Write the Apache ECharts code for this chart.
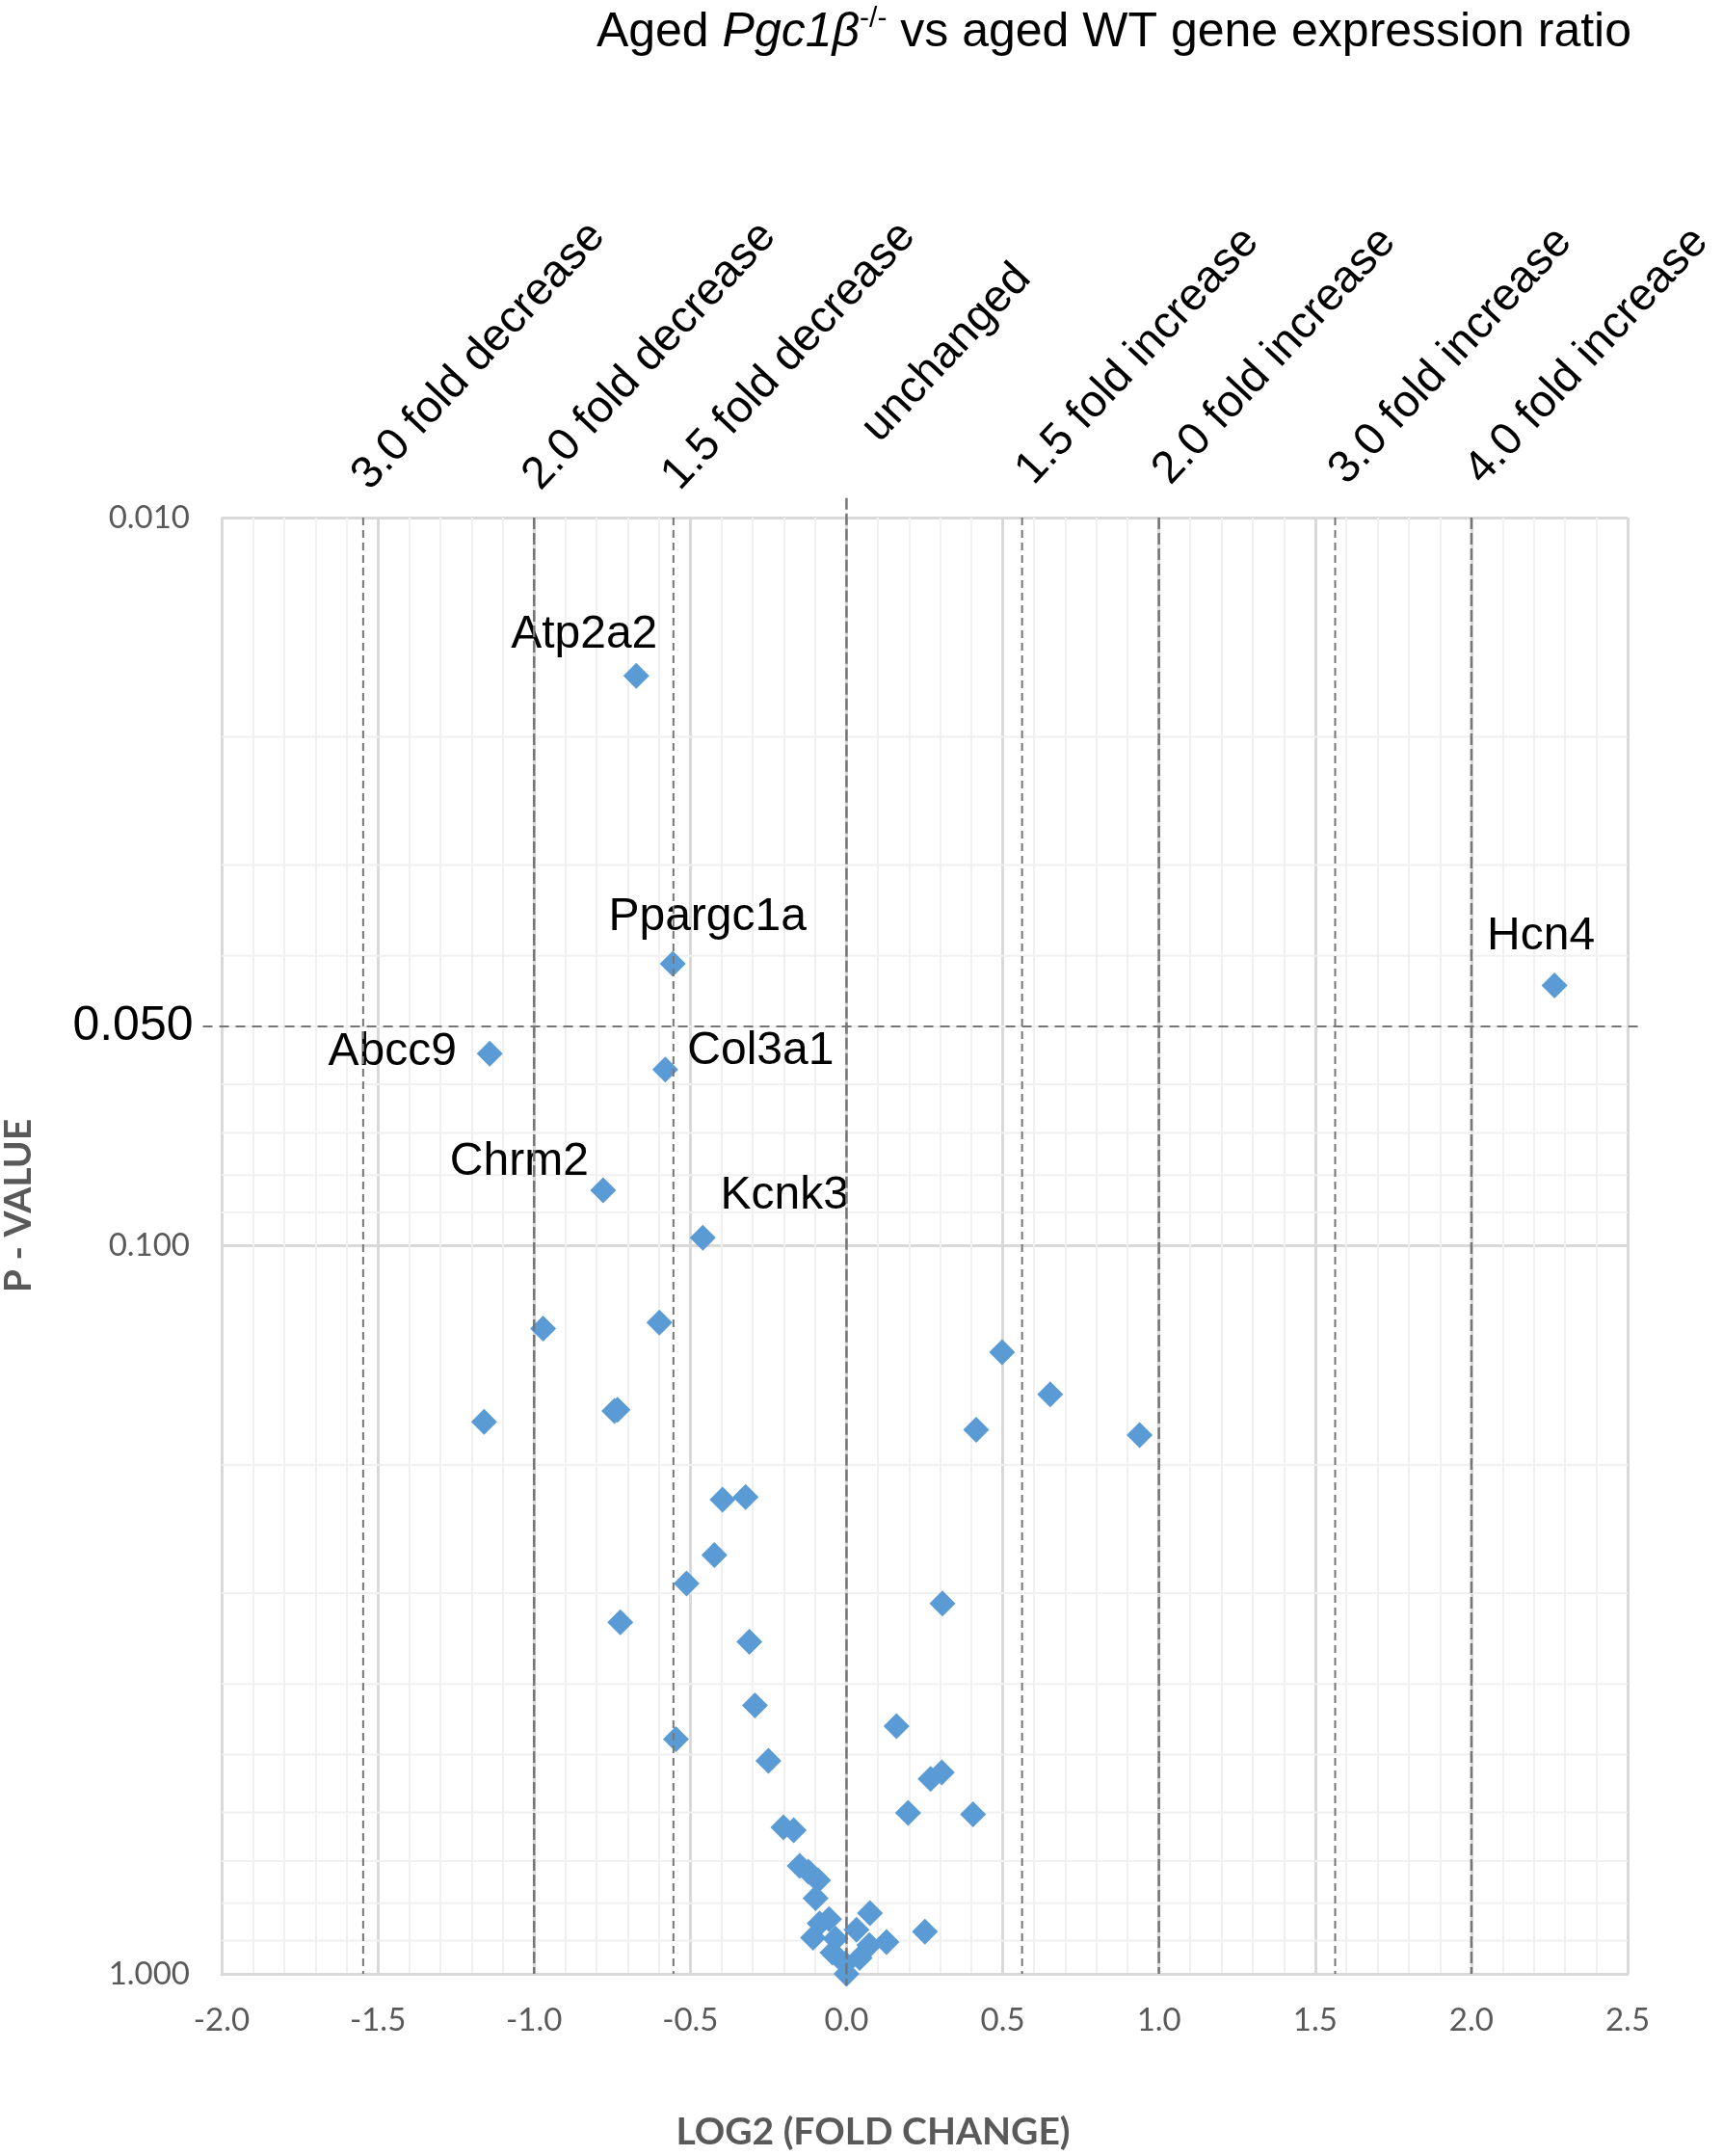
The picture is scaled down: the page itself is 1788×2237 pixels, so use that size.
<!DOCTYPE html>
<html>
<head>
<meta charset="utf-8">
<title>Aged Pgc1β-/- vs aged WT gene expression ratio</title>
<script src="https://cdn.jsdelivr.net/npm/echarts@6/dist/echarts.min.js"></script>
<style>
  html, body { margin: 0; padding: 0; background: #fff; }
  #chart { width: 1788px; height: 2237px; }
</style>
</head>
<body>
<div id="chart"></div>
<script>
// labelled genes
const geneNames = ['Atp2a2', 'Ppargc1a', 'Hcn4', 'Abcc9', 'Col3a1', 'Chrm2', 'Kcnk3'];
const geneLog2 = [-0.673, -0.556, 2.266, -1.142, -0.580, -0.779, -0.460];
const geneP = [0.0165, 0.0410, 0.0439, 0.0545, 0.0573, 0.0839, 0.0975];

// the rest of the genes (no label)
const otherLog2 = [-0.971, -0.599, 0.498, 0.652, -0.743, -0.733, -1.160, 0.415, 0.938,
  -0.397, -0.323, -0.423, -0.512, 0.307, -0.724, -0.311, -0.293, 0.160, -0.546, -0.250,
  0.269, 0.305, 0.197, 0.405, -0.202, -0.169, -0.150, -0.122, -0.091, -0.099, 0.075,
  0.251, -0.056, -0.086, -0.107, -0.035, -0.045, -0.004, 0.000, 0.032, 0.128, 0.073, 0.042];
const otherP = [0.130, 0.1275, 0.140, 0.160, 0.1686, 0.168, 0.1746, 0.179, 0.182,
  0.2233, 0.2214, 0.266, 0.291, 0.310, 0.329, 0.350, 0.428, 0.457, 0.476, 0.510,
  0.540, 0.529, 0.601, 0.604, 0.629, 0.635, 0.711, 0.724, 0.744, 0.787, 0.825,
  0.875, 0.841, 0.853, 0.892, 0.895, 0.935, 0.968, 1.000, 0.870, 0.904, 0.913, 0.951];

// fold change guide lines
const foldLog2 = [-1.547, -1.0, -0.554, 0, 0.562, 1.0, 1.564, 2.0];
const foldLabels = ['3.0 fold decrease', '2.0 fold decrease', '1.5 fold decrease', 'unchanged',
  '1.5 fold increase', '2.0 fold increase', '3.0 fold increase', '4.0 fold increase'];

const pThreshold = 0.05;
const minorP = [0.02, 0.03, 0.04, 0.05, 0.06, 0.07, 0.08, 0.09,
  0.2, 0.3, 0.4, 0.5, 0.6, 0.7, 0.8, 0.9];

const X_MIN = -2, X_MAX = 2.5, X_STEP = 0.5;
const P_MIN = 0.01, P_MAX = 1;

const BLUE = '#5B9BD5';
const GRID_MAJOR = '#D9D9D9';
const GRID_MINOR = '#F0F0F0';
const GUIDE = '#767676';
const AXIS_TEXT = '#595959';
const FONT_TEXT = '"Liberation Sans", Arial, sans-serif';
const FONT_AXIS = 'Lato, "Open Sans", sans-serif';

// where each gene name sits relative to its point
const labelShift = {
  Atp2a2: [-54, -43], Ppargc1a: [36, -48], Hcn4: [-14, -51], Abcc9: [-101, -2],
  Col3a1: [99, -19], Chrm2: [-87, -29], Kcnk3: [85, -43]
};

const pointData = geneNames.map((name, i) => ({
  name,
  value: [geneLog2[i], geneP[i]],
  label: { show: true, offset: labelShift[name] }
})).concat(otherLog2.map((v, i) => [v, otherP[i]]));

function renderMinorGrid(params, api) {
  const p = api.value(1);
  const a = api.coord([X_MIN, p]);
  const b = api.coord([X_MAX, p]);
  return {
    type: 'line',
    shape: { x1: a[0], y1: a[1], x2: b[0], y2: b[1] },
    style: { stroke: GRID_MINOR, lineWidth: 2 }
  };
}

function renderFold(params, api) {
  const v = api.value(0);
  const unchanged = v === 0;
  const whole = Number.isInteger(v);
  const top = api.coord([v, unchanged ? 0.0094 : P_MIN]);
  const bottom = api.coord([v, unchanged ? 1.037 : P_MAX]);
  const lab = api.coord([v, 0.006]);
  return {
    type: 'group',
    children: [{
      type: 'line',
      shape: { x1: top[0], y1: top[1], x2: bottom[0], y2: bottom[1] },
      style: { stroke: GUIDE, lineWidth: whole ? 2.5 : 2, lineDash: whole ? [12, 4] : [8, 5] }
    }, {
      type: 'text',
      x: lab[0] + (unchanged ? 104 : 120),
      y: lab[1] - (unchanged ? 3 : 0),
      rotation: 47 * Math.PI / 180,
      style: {
        text: foldLabels[params.dataIndex],
        fill: '#000',
        font: '47px ' + FONT_TEXT,
        align: 'center', verticalAlign: 'middle',
        textAlign: 'center', textVerticalAlign: 'middle'
      }
    }]
  };
}

function renderThreshold(params, api) {
  const p = api.value(1);
  const a = api.coord([-2.06, p]);
  const b = api.coord([2.55, p]);
  return {
    type: 'group',
    children: [{
      type: 'line',
      shape: { x1: a[0], y1: a[1], x2: b[0], y2: b[1] },
      style: { stroke: GUIDE, lineWidth: 2, lineDash: [10, 7] }
    }, {
      type: 'text',
      x: a[0] - 10,
      y: a[1],
      style: {
        text: p.toFixed(3),
        fill: '#000',
        font: '50px ' + FONT_TEXT,
        align: 'right', verticalAlign: 'middle',
        textAlign: 'right', textVerticalAlign: 'middle'
      }
    }]
  };
}

const chart = echarts.init(document.getElementById('chart'), null, { renderer: 'canvas' });

chart.setOption({
  animation: false,
  backgroundColor: '#fff',
  title: {
    text: '{a|Aged }{i|Pgc1β}{s|-/-}{a| vs aged WT gene expression ratio}',
    right: 90,
    top: 0,
    textStyle: {
      fontWeight: 'normal',
      rich: {
        a: { fontSize: 50, fontFamily: FONT_TEXT, fontWeight: 'normal', color: '#000', lineHeight: 58 },
        i: { fontSize: 50, fontFamily: FONT_TEXT, fontWeight: 'normal', color: '#000', fontStyle: 'italic', lineHeight: 58 },
        s: { fontSize: 30, fontFamily: FONT_TEXT, fontWeight: 'normal', color: '#000', verticalAlign: 'top', lineHeight: 40 }
      }
    }
  },
  grid: { left: 230, right: 99, top: 537, bottom: 189, containLabel: false, outerBoundsMode: 'none' },
  xAxis: {
    type: 'value',
    min: X_MIN,
    max: X_MAX,
    interval: X_STEP,
    axisLine: { show: true, onZero: false, lineStyle: { color: GRID_MAJOR, width: 3 } },
    axisTick: { show: false },
    minorTick: { show: false, splitNumber: 5 },
    axisLabel: {
      margin: 32,
      color: AXIS_TEXT,
      fontFamily: FONT_AXIS,
      fontSize: 33,
      showMinLabel: true,
      showMaxLabel: true,
      formatter: v => v.toFixed(1)
    },
    splitLine: { show: true, showMinLine: true, showMaxLine: true, lineStyle: { color: GRID_MAJOR, width: 3 } },
    minorSplitLine: { show: true, lineStyle: { color: GRID_MINOR, width: 2 } }
  },
  yAxis: {
    type: 'log',
    logBase: 10,
    min: P_MIN,
    max: P_MAX,
    inverse: true,
    axisLine: { show: true, lineStyle: { color: GRID_MAJOR, width: 3 } },
    axisTick: { show: false },
    axisLabel: {
      margin: 33,
      color: AXIS_TEXT,
      fontFamily: FONT_AXIS,
      fontSize: 33,
      showMinLabel: true,
      showMaxLabel: true,
      formatter: v => v.toFixed(3)
    },
    splitLine: { show: true, showMinLine: true, showMaxLine: true, lineStyle: { color: GRID_MAJOR, width: 3 } }
  },
  graphic: [{
    type: 'text',
    x: 906,
    y: 2212,
    style: {
      text: 'LOG2 (FOLD CHANGE)',
      fill: AXIS_TEXT,
      font: 'bold 39px ' + FONT_AXIS,
      align: 'center', verticalAlign: 'middle'
    }
  }, {
    type: 'text',
    x: 19,
    y: 1251,
    rotation: Math.PI / 2,
    style: {
      text: 'P - VALUE',
      fill: AXIS_TEXT,
      font: 'bold 39px ' + FONT_AXIS,
      align: 'center', verticalAlign: 'middle'
    }
  }],
  series: [{
    name: 'minor grid',
    type: 'custom',
    z: 1,
    silent: true,
    clip: false,
    data: minorP.map(p => [0, p]),
    renderItem: renderMinorGrid
  }, {
    name: 'genes',
    type: 'scatter',
    z: 2,
    clip: false,
    symbol: 'diamond',
    symbolSize: 27,
    itemStyle: { color: BLUE, opacity: 1 },
    emphasis: { disabled: true },
    label: {
      show: false,
      position: 'inside',
      formatter: '{b}',
      color: '#000',
      fontFamily: FONT_TEXT,
      fontSize: 48,
      textBorderWidth: 0,
      align: 'center',
      verticalAlign: 'middle'
    },
    data: pointData
  }, {
    name: 'fold lines',
    type: 'custom',
    z: 3,
    silent: true,
    clip: false,
    data: foldLog2.map(v => [v, P_MAX]),
    renderItem: renderFold
  }, {
    name: 'p threshold',
    type: 'custom',
    z: 3,
    silent: true,
    clip: false,
    data: [[0, pThreshold]],
    renderItem: renderThreshold
  }]
});
</script>
</body>
</html>
